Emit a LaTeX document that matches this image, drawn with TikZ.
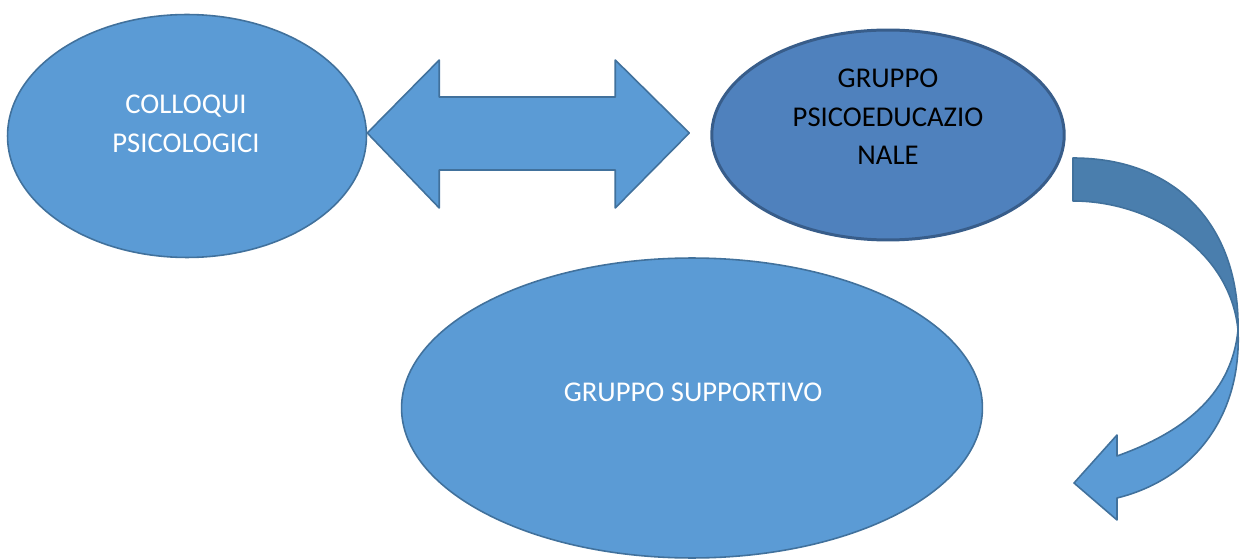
\documentclass[tikz,border=0pt]{standalone}
\usepackage{fontspec}
\setmainfont{Carlito}
\usetikzlibrary{shapes.geometric, positioning}

\definecolor{blobfill}{HTML}{5B9BD5}
\definecolor{blobline}{HTML}{41719C}
\definecolor{darkfill}{HTML}{4F81BD}
\definecolor{darkline}{HTML}{385D8A}
\definecolor{backfill}{HTML}{4A7EAD}

\begin{document}
\begin{tikzpicture}[x=0.02cm, y=-0.02cm,
  blob/.style={ellipse, draw=blobline, fill=blobfill, line width=0.9pt, inner sep=0pt},
  block/.style={draw=blobline, fill=blobfill, line width=0.9pt, line join=round},
  caption/.style={align=center, font=\fontsize{16.3}{22}\selectfont}]
  \useasboundingbox (0,0) rectangle (1240,560);
  % the three groups
  \node[blob, minimum width=7.18cm, minimum height=4.86cm] (colloqui) at (187,136) {};
  \node[blob, fill=darkfill, draw=darkline, line width=1.7pt,
    minimum width=7.05cm, minimum height=4.2cm] (psico) at (888,135) {};
  \node[blob, minimum width=11.62cm, minimum height=6cm] (supporto) at (692,408) {};
  \node[caption, text=white] at (186,124) {COLLOQUI\\PSICOLOGICI};
  \node[caption, text=black] at (888,117) {GRUPPO\\PSICOEDUCAZIO\\NALE};
  \node[caption, text=white] at (693,392) {GRUPPO SUPPORTIVO};
  % Two-way arrow between colloqui and psico
  \draw[block] (colloqui.east) ++(0,-3) coordinate (link)
    -- ++(72,-73) -- ++(0,37) -- ++(176,0) -- ++(0,-37) -- ++(74,73)
    -- ++(-74,75) -- ++(0,-38) -- ++(-176,0) -- ++(0,38) -- cycle;
  % Curved arrow, back side first, then the front with its head
  \filldraw[block, fill=backfill]
    (1073,158) .. controls (1180,158) and (1240,230) .. (1238,330)
    .. controls (1230,250) and (1150,201) .. (1073,201) -- cycle;
  \filldraw[block]
    (1238,330) .. controls (1242,420) and (1190,480) .. (1117,498)
    -- (1117,520) -- (1074,483) -- (1117,435) -- (1117,456)
    .. controls (1190,430) and (1232,390) .. (1238,330) -- cycle;
\end{tikzpicture}
\end{document}
